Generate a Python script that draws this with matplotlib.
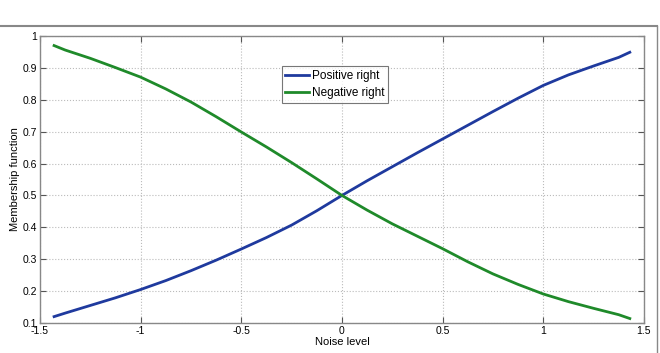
import matplotlib
matplotlib.use("Agg")
import matplotlib.pyplot as plt
from matplotlib.lines import Line2D

# values
noise = [-1.43, -1.375, -1.25, -1.125, -1.0, -0.875, -0.75, -0.625, -0.5, -0.375, -0.25, -0.125, 0.0,
         0.125, 0.25, 0.375, 0.5, 0.625, 0.75, 0.875, 1.0, 1.125, 1.25, 1.375, 1.43]
positive_right = [0.12, 0.131, 0.155, 0.179, 0.205, 0.233, 0.264, 0.297, 0.332, 0.368, 0.407, 0.452, 0.50,
                  0.546, 0.590, 0.634, 0.677, 0.72, 0.763, 0.805, 0.845, 0.878, 0.906, 0.933, 0.949]
negative_right = [0.970, 0.956, 0.930, 0.901, 0.871, 0.834, 0.793, 0.747, 0.699, 0.652, 0.603, 0.552, 0.50,
                  0.454, 0.411, 0.372, 0.333, 0.292, 0.254, 0.221, 0.191, 0.167, 0.146, 0.126, 0.114]

xticks = [-1.5, -1, -0.5, 0, 0.5, 1, 1.5]
xtick_labels = ['-1.5', '-1', '-0.5', '0', '0.5', '1', '1.5']
yticks = [0.1, 0.2, 0.3, 0.4, 0.5, 0.6, 0.7, 0.8, 0.9, 1.0]
ytick_labels = ['0.1', '0.2', '0.3', '0.4', '0.5', '0.6', '0.7', '0.8', '0.9', '1']

plt.rcParams['font.family'] = ['Liberation Sans', 'DejaVu Sans']

fig = plt.figure(figsize=(6.6, 3.53), dpi=100)
ax = fig.add_axes([0.0606, 0.085, 0.915, 0.813])

ax.plot(noise, positive_right, color='#1f3a9e', linewidth=2.0, label='Positive right')
ax.plot(noise, negative_right, color='#1f8a2a', linewidth=2.0, label='Negative right')

ax.set_xlim(-1.5, 1.5)
ax.set_ylim(0.1, 1.0)
ax.set_xticks(xticks)
ax.set_xticklabels(xtick_labels)
ax.set_yticks(yticks)
ax.set_yticklabels(ytick_labels)
ax.tick_params(direction='in', top=True, right=True, labelsize=7.5, length=4,
               color='#555555', pad=2)
ax.grid(True, linestyle=':', color='#bbbbbb', linewidth=0.8)
for s in ax.spines.values():
    s.set_color('#888888')
    s.set_linewidth(1.0)

ax.set_xlabel('Noise level', fontsize=8, labelpad=1)
ax.set_ylabel('Membership function', fontsize=8, labelpad=2)

leg = ax.legend(loc='upper left', bbox_to_anchor=(0.4, 0.895), fontsize=8.5,
                frameon=True, fancybox=False, handlelength=2.0,
                borderpad=0.3, labelspacing=0.45, handletextpad=0.3,
                borderaxespad=0)
leg.get_frame().set_edgecolor('#555555')
leg.get_frame().set_linewidth(0.8)

# screenshot frame lines (top and right)
fig.add_artist(Line2D([0, 0.996], [1 - 26 / 353, 1 - 26 / 353], transform=fig.transFigure,
                      color='#888888', linewidth=1.5))
fig.add_artist(Line2D([0.996, 0.996], [0, 1 - 26 / 353], transform=fig.transFigure,
                      color='#888888', linewidth=1.0))

fig.savefig('out.png', dpi=100)
